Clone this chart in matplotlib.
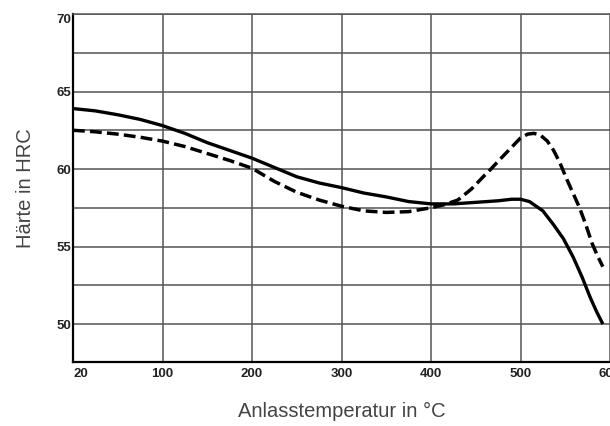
import numpy as np
import matplotlib
matplotlib.use("Agg")
import matplotlib.pyplot as plt

# Temperatur-Achse: erste Markierung "20" sitzt am linken Rand
tick_temps = [20, 100, 200, 300, 400, 500, 600]
tick_pos = [0, 100, 200, 300, 400, 500, 600]
tick_labels = ["20", "100", "200", "300", "400", "500", "600"]

y_major = [50, 55, 60, 65, 70]
y_minor = [52.5, 57.5, 62.5, 67.5]

# durchgezogene Kurve
temp_solid = [20, 40, 60, 80, 100, 125, 150, 175, 200, 225, 250, 275, 300, 325,
              350, 375, 400, 425, 450, 475, 490, 500, 510, 525, 537, 548, 559,
              569, 578, 585, 592]
hrc_solid = [63.9, 63.75, 63.5, 63.2, 62.8, 62.3, 61.7, 61.2, 60.7, 60.1, 59.5,
             59.1, 58.8, 58.45, 58.2, 57.9, 57.75, 57.75, 57.85, 57.95, 58.05,
             58.05, 57.9, 57.3, 56.4, 55.5, 54.3, 53.0, 51.7, 50.8, 50.0]

# gestrichelte Kurve
temp_dash = [20, 40, 60, 80, 100, 125, 150, 175, 200, 225, 250, 275, 300, 325,
             350, 375, 400, 415, 430, 445, 460, 467, 475, 490, 500, 508, 515,
             522, 530, 537, 544, 552, 559, 566, 573, 580, 586, 592]
hrc_dash = [62.5, 62.4, 62.25, 62.05, 61.8, 61.45, 61.0, 60.55, 60.05, 59.2,
            58.5, 58.0, 57.6, 57.3, 57.2, 57.25, 57.5, 57.7, 58.0, 58.7, 59.6,
            60.0, 60.5, 61.4, 62.0, 62.25, 62.3, 62.2, 61.8, 61.2, 60.4, 59.3,
            58.4, 57.5, 56.4, 55.2, 54.4, 53.7]


def to_pos(t):
    return np.interp(t, tick_temps, tick_pos)


fig = plt.figure(figsize=(6.1, 4.26), dpi=100)
ax = fig.add_axes([73 / 610, 64 / 426, 537 / 610, 348 / 426])

ax.plot(to_pos(temp_solid), hrc_solid, color="black", lw=2.4,
        solid_capstyle="butt", solid_joinstyle="round", zorder=3)
ax.plot(to_pos(temp_dash), hrc_dash, color="black", lw=2.5,
        dashes=(3.4, 1.5), dash_joinstyle="round", zorder=3)

ax.set_xlim(0, 591.5)
ax.set_ylim(47.55, 70)

ax.set_xticks(tick_pos)
ax.set_xticklabels(tick_labels)
ax.set_yticks(y_major)
ax.set_yticklabels([str(v) for v in y_major])
ax.set_yticks(y_minor, minor=True)

ax.grid(True, which="both", color="#555555", lw=1.1)
ax.set_axisbelow(True)
ax.tick_params(which="both", length=0)
ax.tick_params(axis="y", pad=1)
ax.tick_params(axis="x", pad=4)

for lab in ax.get_xticklabels() + ax.get_yticklabels():
    lab.set_fontfamily("Liberation Sans")
    lab.set_fontweight("bold")
    lab.set_fontsize(9.5)
    lab.set_color("#222222")
ax.get_xticklabels()[0].set_horizontalalignment("left")
ax.get_yticklabels()[-1].set_verticalalignment("top")

ax.spines["right"].set_visible(False)
ax.spines["top"].set_color("#555555")
ax.spines["top"].set_linewidth(1.1)
ax.spines["left"].set_linewidth(1.6)
ax.spines["bottom"].set_linewidth(1.6)

ax.set_xlabel("Anlasstemperatur in °C", fontfamily="Liberation Sans",
              fontsize=14.5, color="#444444")
ax.set_ylabel("Härte in HRC", fontfamily="Liberation Sans",
              fontsize=14.5, color="#444444")
ax.xaxis.set_label_coords(0.5, -0.141)
ax.xaxis.label.set_verticalalignment("center")
ax.yaxis.set_label_coords(-0.089, 0.5)
ax.yaxis.label.set_verticalalignment("center")

fig.savefig("out.png", dpi=100)
